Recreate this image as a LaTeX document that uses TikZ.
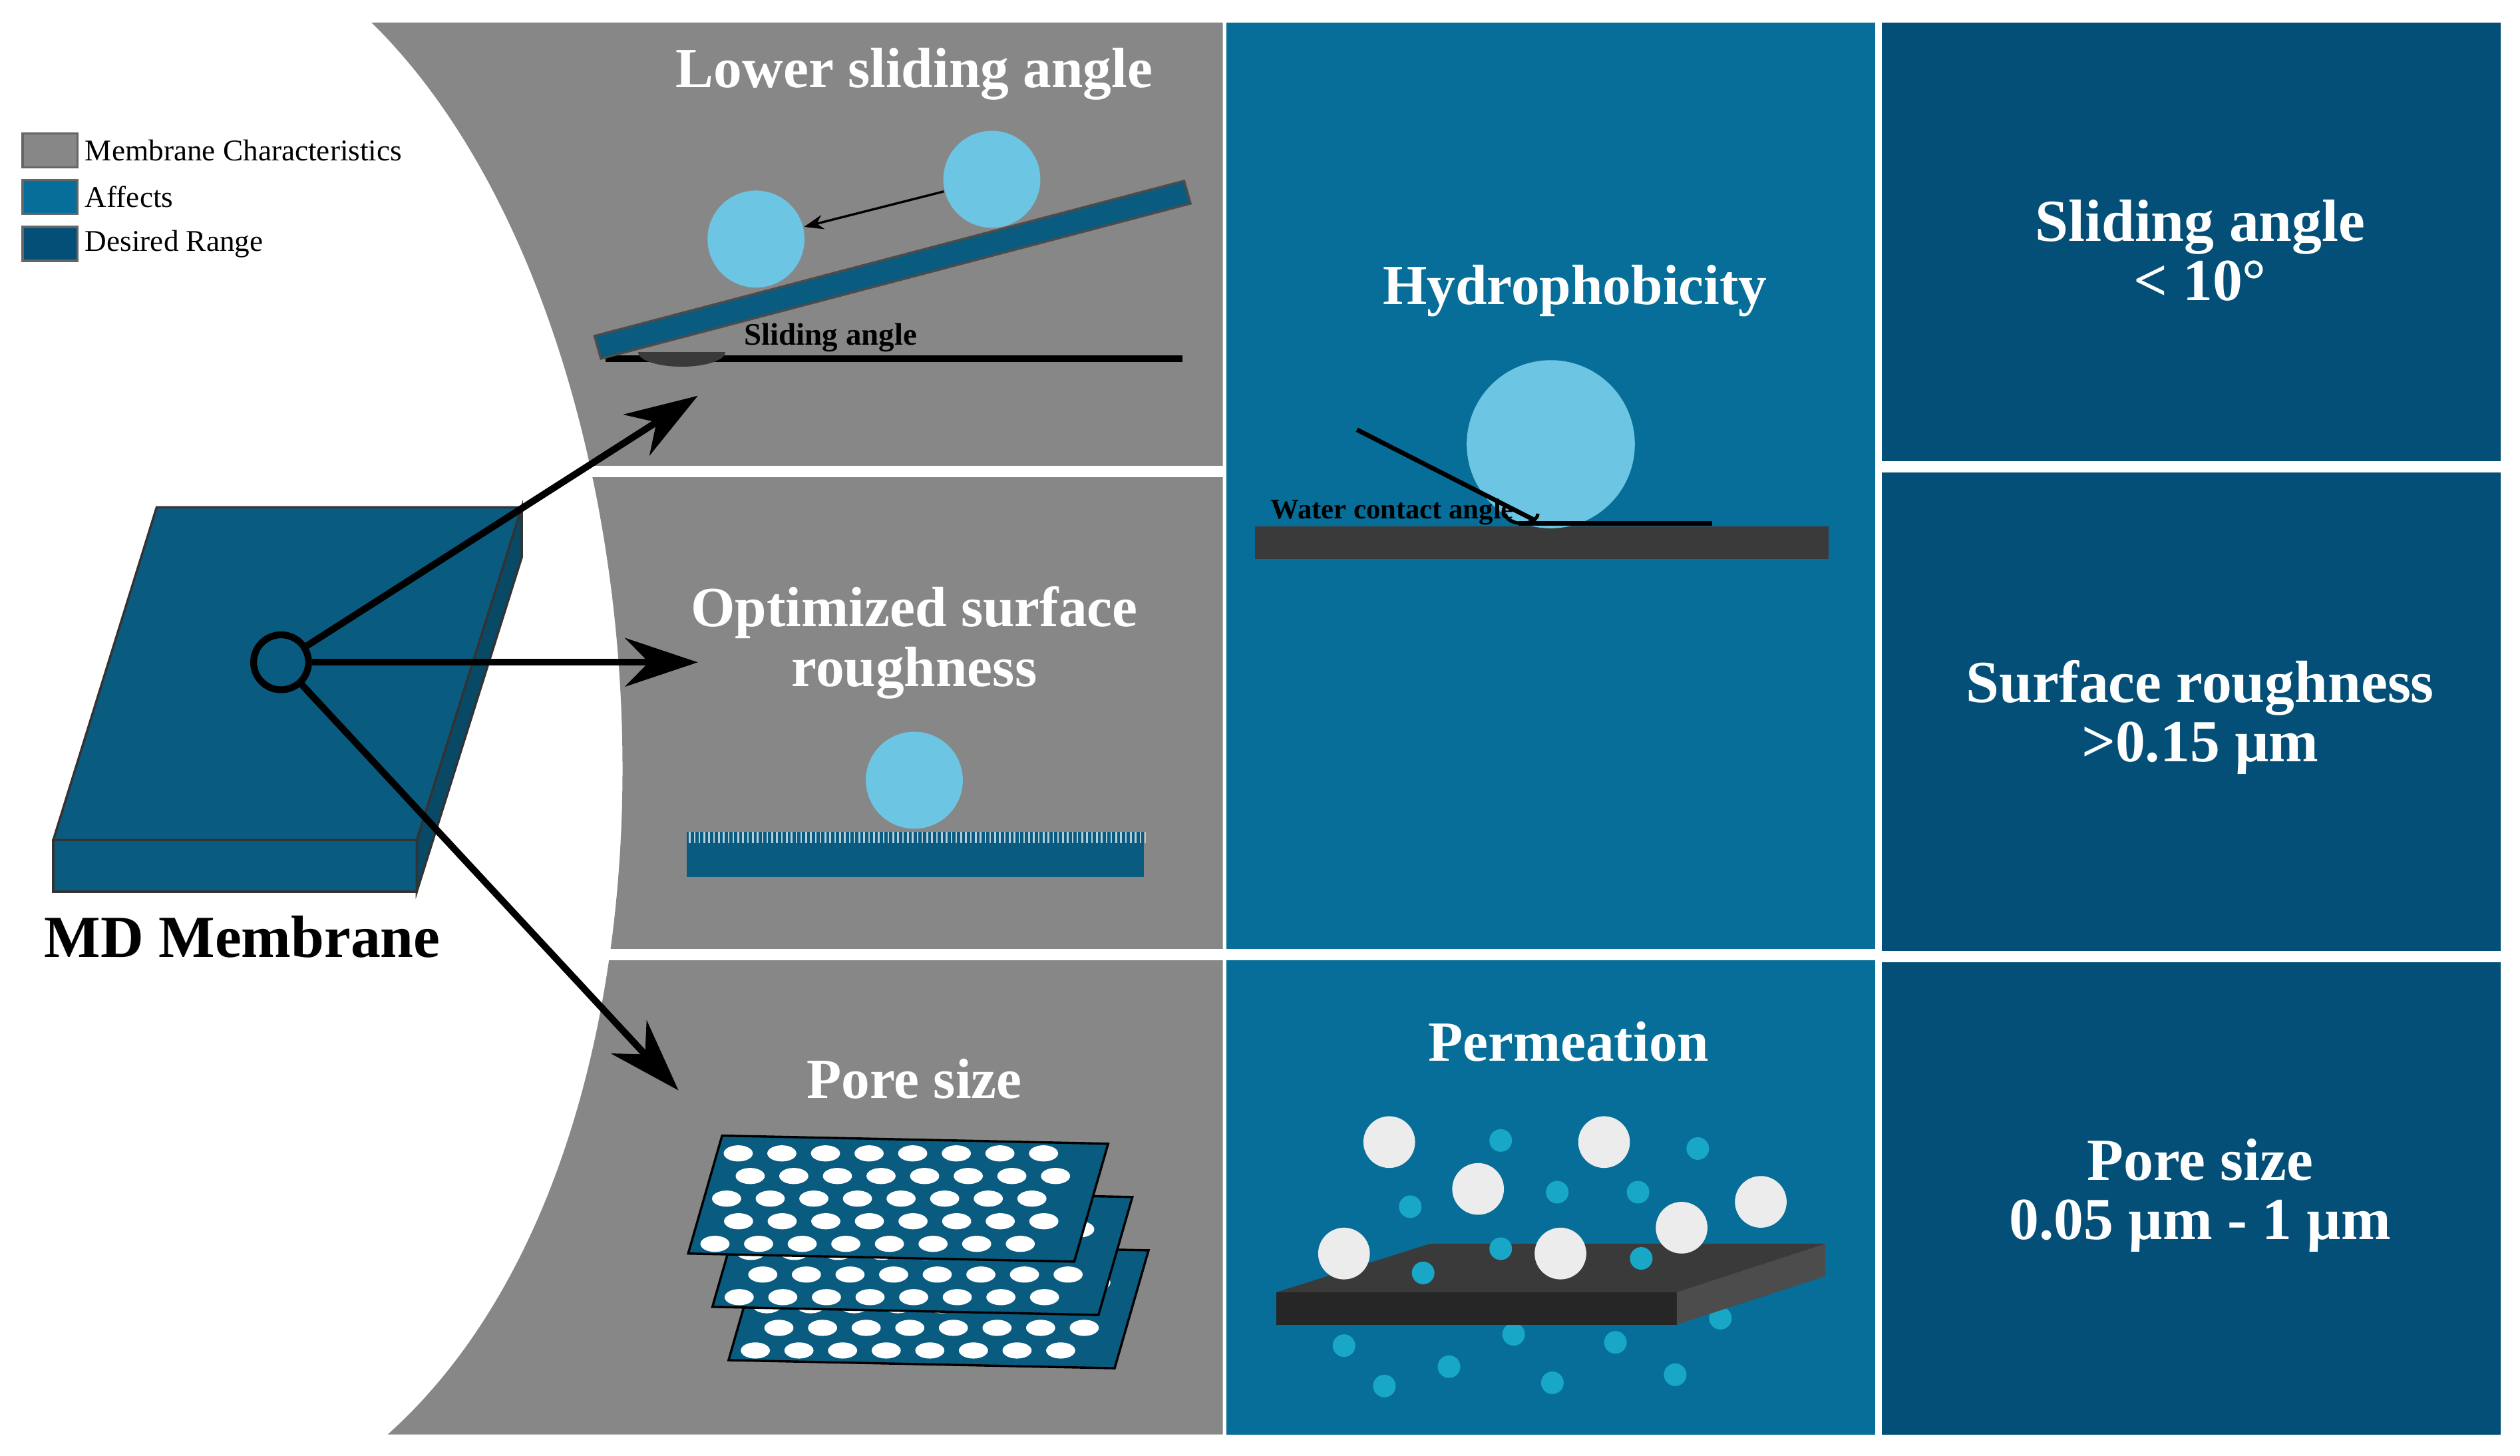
\documentclass[tikz,border=0pt]{standalone}
\usepackage{fontspec}
\setmainfont{Liberation Serif}
\usetikzlibrary{arrows.meta}
\definecolor{mcgray}{HTML}{878787}
\definecolor{affblue}{HTML}{066E98}
\definecolor{desblue}{HTML}{034F77}
\definecolor{membblue}{HTML}{0A5B80}
\definecolor{drop}{HTML}{6CC6E3}
\definecolor{slab}{HTML}{3A3A3A}
\definecolor{dot}{HTML}{19A7C8}
\tikzset{
	title/.style={text=white, font=\bfseries\fontsize{10}{10.5}\selectfont, align=center},
	desired/.style={text=white, font=\bfseries\fontsize{10.5}{10.5}\selectfont, align=center},
	legend/.style={draw=black!60, minimum width=0.34cm, minimum height=0.21cm, inner sep=0pt},
	legtext/.style={anchor=west, font=\fontsize{5.3}{6}\selectfont, inner sep=0pt},
	ball/.style={circle, fill=drop, inner sep=0pt},
	pore/.style={fill=white, draw=none},
	sep/.style={white, line width=2pt}
}
\begin{document}
\begin{tikzpicture}[x=0.01cm, y=-0.01cm]
	\useasboundingbox (0,0) rectangle (1560,901);
	\fill[white] (0,0) rectangle (1560,901);
	% background panels
	\fill[mcgray] (230,14) .. controls (420,200) and (450,700) .. (240,888) -- (757,888) -- (757,14) -- cycle;
	\fill[affblue] (759,14) rectangle (1161,888);
	\fill[desblue] (1165,14) rectangle (1548,888);
	\draw[sep] (365,292) -- (757,292);
	\draw[sep] (370,591) -- (757,591);
	\draw[sep] (759,591) -- (1161,591);
	\draw[sep] (1165,289) -- (1548,289);
	\draw[sep] (1165,592) -- (1548,592);
	% legend
	\node[legend, fill=mcgray] (lgA) at (31,93) {};
	\node[legend, fill=affblue] (lgB) at (31,122) {};
	\node[legend, fill=desblue] (lgC) at (31,151) {};
	\node[legtext] at (52,93) {Membrane Characteristics};
	\node[legtext] at (52,122) {Affects};
	\node[legtext] at (52,151) {Desired Range};
	% membrane
	\filldraw[fill=membblue, draw=black!80] (33,520) rectangle (258,552);
	\filldraw[fill=membblue!80!black, draw=black!80] (258,520) -- (323,314) -- (323,345) -- (258,552) -- cycle;
	\filldraw[fill=membblue, draw=black!80] (97,314) -- (323,314) -- (258,520) -- (33,520) -- cycle;
	\node[circle, draw=black, line width=1.2pt, minimum size=0.34cm, inner sep=0pt] (hub) at (174,410) {};
	\node[font=\bfseries\fontsize{10.5}{12}\selectfont] (md) at (150,580) {MD Membrane};
	\coordinate (tA) at (432,245);
	\coordinate (tB) at (432,410);
	\coordinate (tC) at (420,675);
	\foreach \t in {tA,tB,tC}
		\draw[line width=1.2pt, -{Stealth[length=0.45cm, width=0.3cm]}] (hub) -- (\t);
	% lower sliding angle
	\node[title] (slide) at (566,46) {Lower sliding angle};
	\draw[black, line width=1.2pt] (375,222) -- (732,222);
	\fill[slab] (395,218) arc[start angle=180, end angle=0, x radius=27, y radius=9] -- cycle;
	\filldraw[fill=membblue, draw=black!70] (368,208) -- (733,112) -- (737,126) -- (372,222) -- cycle;
	\node[ball, minimum size=0.6cm] (b1) at (468,148) {};
	\node[ball, minimum size=0.6cm] (b2) at (614,111) {};
	\draw[-{Stealth[length=0.12cm]}] (b2) -- (b1);
	\node[font=\fontsize{5.5}{6}\selectfont\bfseries, anchor=west, inner sep=0pt] at (460,209) {Sliding angle};
	% surface roughness
	\node[title] (rough) at (566,398) {Optimized surface\\roughness};
	\fill[membblue] (425,515) rectangle (708,543);
	\foreach \i in {0,...,94}
		\draw[white!70!membblue, line width=0.3pt] (427+3*\i,515) -- (427+3*\i,522);
	\node[ball, minimum size=0.6cm] (b3) at (566,483) {};
	% pore size
	\node[title] (pore) at (566,668) {Pore size};
	\foreach \dx/\dy in {25/66, 15/33, 0/0} {
		\begin{scope}[shift={(\dx,\dy)}]
			\filldraw[fill=membblue, draw=black] (447,703) -- (686,708) -- (665,781) -- (426,776) -- cycle;
			\foreach \r in {0,...,4}
				\foreach \c in {0,...,7}
					\fill[pore] ({457+27*\c-3.6*\r+(mod(\r,2))*11},{714+14*\r}) ellipse[x radius=9, y radius=5];
		\end{scope}
	}
	% hydrophobicity
	\node[title] (hydro) at (975,180) {Hydrophobicity};
	\fill[slab] (777,326) rectangle (1132,346);
	\node[ball, minimum size=1.04cm] (b4) at (960,275) {};
	\draw[black, line width=0.8pt] (840,266) -- (950,322);
	\draw[black, line width=0.8pt] (940,324) -- (1060,324);
	\draw[black, line width=0.6pt] (932,318) arc[start angle=180, end angle=0, x radius=10, y radius=6];
	\node[font=\fontsize{5}{6}\selectfont\bfseries, anchor=west, inner sep=0pt] at (786,317) {Water contact angle};
	% permeation
	\node[title] (perm) at (971,645) {Permeation};
	\foreach \x/\y in {832/833, 857/858, 897/846, 937/826, 961/856, 1000/831, 1037/851, 1065/816} 
		\fill[dot] (\x,\y) circle (7);
	\fill[slab] (790,800) -- (885,770) -- (1130,770) -- (1038,800) -- cycle;
	\fill[black!85] (790,800) rectangle (1038,820);
	\fill[black!70] (1038,800) -- (1130,770) -- (1130,790) -- (1038,820) -- cycle;
	\foreach \x/\y in {929/706, 1051/711, 873/747, 964/738, 1014/738, 881/788, 929/773, 1016/779}
		\fill[dot] (\x,\y) circle (7);
	\foreach \x/\y in {860/707, 915/736, 993/707, 1041/760, 1090/744, 832/776, 966/776}
		\fill[white!85!gray] (\x,\y) circle (16);
	% desired range
	\node[desired] (rA) at (1362,155) {Sliding angle\\< 10°};
	\node[desired] (rB) at (1362,444) {Surface roughness\\>0.15 µm};
	\node[desired] (rC) at (1362,740) {Pore size\\0.05 µm - 1 µm};
\end{tikzpicture}
\end{document}
